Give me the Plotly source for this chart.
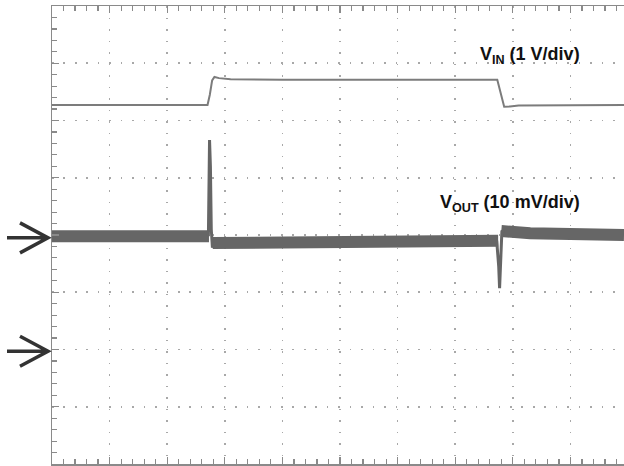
import plotly.graph_objects as go

# ---- data (units: screen divisions; x = time div, y = vertical div, 0 = centre line) ----
X_RANGE = [0, 9.93]          # 10 time divisions, right edge cropped in the picture
Y_RANGE = [-4, 4]            # 8 vertical divisions

# V_IN trace (1 V/div)
vin_t = [0.0, 2.70, 2.74, 2.78, 2.82, 2.90, 3.10, 4.00, 7.73, 7.77, 7.81, 7.85, 7.95, 8.10, 9.93]
vin_v = [2.27, 2.27, 2.45, 2.70, 2.76, 2.74, 2.72, 2.71, 2.71, 2.55, 2.35, 2.24, 2.245, 2.26, 2.27]

# V_OUT noisy band (10 mV/div) - centre of the band
vout_pre_t = [0.0, 2.725]
vout_pre_v = [-0.02, -0.02]
vout_mid_t = [2.79, 5.0, 7.745]
vout_mid_v = [-0.14, -0.12, -0.10]
vout_post_t = [7.80, 8.30, 9.93]
vout_post_v = [0.07, 0.03, 0.0]

# V_OUT transients (thin)
spike_t = [2.715, 2.735, 2.750, 2.765, 2.785, 2.81]
spike_v = [-0.02, 1.66, 1.20, 0.10, -0.22, -0.14]
dip_t = [7.72, 7.755, 7.77, 7.785, 7.81, 7.85]
dip_v = [-0.10, -0.55, -0.93, -0.45, 0.06, 0.08]

# ground reference markers on the left edge
ground_levels = [-0.05, -2.03]

labels = ["<b>V<sub>IN</sub> (1 V/div)</b>", "<b>V<sub>OUT</sub> (10 mV/div)</b>"]
label_y = [3.13, 0.555]
label_x = [9.2, 9.2]

# ---- figure ----
fig = go.Figure()
trace_grey = "#7c7c7c"
band_grey = "#666666"

fig.add_trace(go.Scatter(x=vin_t, y=vin_v, mode="lines",
                         line=dict(color=trace_grey, width=2), hoverinfo="skip"))
for tt, vv in [(vout_pre_t, vout_pre_v), (vout_mid_t, vout_mid_v), (vout_post_t, vout_post_v)]:
    fig.add_trace(go.Scatter(x=tt, y=vv, mode="lines",
                             line=dict(color=band_grey, width=12), hoverinfo="skip"))
for tt, vv in [(spike_t, spike_v), (dip_t, dip_v)]:
    fig.add_trace(go.Scatter(x=tt, y=vv, mode="lines",
                             line=dict(color=band_grey, width=3), hoverinfo="skip"))

for txt, xx, yy in zip(labels, label_x, label_y):
    fig.add_annotation(x=xx, y=yy, xref="x", yref="y", text=txt, showarrow=False,
                       xanchor="right", yanchor="middle",
                       font=dict(family="Liberation Sans, Arial", size=18, color="#111111"))

# ground arrows (in the left margin), converted to paper coordinates
y_span = Y_RANGE[1] - Y_RANGE[0]
for lvl in ground_levels:
    yp = (lvl - Y_RANGE[0]) / y_span
    dy = 15 / 458
    x0, xt, xb = -45 / 572, -4 / 572, -32 / 572
    fig.add_shape(type="path", xref="paper", yref="paper",
                  path=f"M {x0},{yp} L {xt},{yp} M {xb},{yp+dy} L {xt},{yp} L {xb},{yp-dy}",
                  line=dict(color="#333333", width=3.5))

axis_common = dict(showticklabels=False, showline=True, linecolor="#8a8a8a", linewidth=1.5,
                   ticks="inside", tickcolor="#8a8a8a", tickwidth=1.2, ticklen=7,
                   dtick=1, tick0=0, showgrid=True, gridcolor="#a8a8a8", gridwidth=1.6,
                   zeroline=False, fixedrange=True,
                   minor=dict(ticks="inside", ticklen=5, dtick=0.2, tickcolor="#8a8a8a",
                              tickwidth=1.2, showgrid=False))

fig.update_xaxes(range=X_RANGE, mirror="allticks", griddash="1.6px,9.9px", **axis_common)
fig.update_yaxes(range=Y_RANGE, mirror=False, griddash="1.6px,9.85px", **axis_common)

fig.update_layout(width=624, height=466, autosize=False,
                  margin=dict(l=52, r=0, t=6, b=2, pad=0),
                  plot_bgcolor="white", paper_bgcolor="white",
                  showlegend=False)

fig.write_html("out.html", config={"displayModeBar": False, "staticPlot": True},
               post_script="document.body.style.margin='0';document.body.style.overflow='hidden';")
